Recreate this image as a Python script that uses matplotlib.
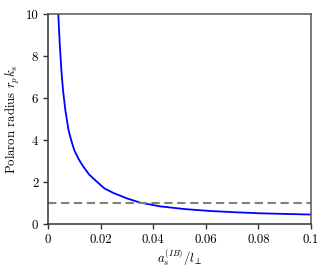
import matplotlib
matplotlib.use("Agg")
import matplotlib.pyplot as plt
import numpy as np

plt.rcParams['font.family'] = ['cmr10', 'DejaVu Serif']
plt.rcParams['mathtext.fontset'] = 'cm'
plt.rcParams['axes.formatter.use_mathtext'] = True
plt.rcParams['font.size'] = 9.2

x_vals = [0.0039, 0.0045, 0.0051, 0.0057, 0.0066, 0.0078, 0.0088, 0.0100, 0.0117, 0.0135,
          0.0157, 0.0180, 0.0215, 0.0250, 0.0300, 0.0350, 0.0426, 0.0520, 0.0616, 0.0710,
          0.0806, 0.0900, 0.1]
r_vals = [10.0, 8.5, 7.3, 6.38, 5.42, 4.47, 4.0, 3.51, 3.08, 2.72,
          2.35, 2.08, 1.69, 1.47, 1.22, 1.02, 0.84, 0.71, 0.62, 0.56,
          0.51, 0.48, 0.45]
ref_level = 1.0

fig = plt.figure(figsize=(3.29, 2.74), dpi=100)
ax = fig.add_axes([48/329, 1 - 224/274, (311-48)/329, (224-14)/274])

ax.plot(x_vals, r_vals, color='blue', lw=1.3)
ax.axhline(ref_level, color='gray', ls='--', lw=1.5, dashes=(4, 2.2))

ax.set_xlim(0, 0.1)
ax.set_ylim(0, 10)
ax.set_xticks([0, 0.02, 0.04, 0.06, 0.08, 0.1])
ax.set_xticklabels(['0', '0.02', '0.04', '0.06', '0.08', '0.1'])
ax.set_yticks([0, 2, 4, 6, 8, 10])
ax.set_yticklabels(['0', '2', '4', '6', '8', '10'])
ax.tick_params(direction='out', length=3.5, width=1, color='#333333', top=False, right=False)
for s in ['left', 'bottom']:
    ax.spines[s].set_color('#333333')
    ax.spines[s].set_linewidth(1.1)
for s in ['top', 'right']:
    ax.spines[s].set_color('#555555')
    ax.spines[s].set_linewidth(1.1)

ax.set_xlabel(r'$a_s^{(IB)}/l_\perp$', labelpad=1.5)
ax.set_ylabel(r'Polaron radius $r_p k_s$', labelpad=2.5)

fig.savefig('out.png', dpi=100)
